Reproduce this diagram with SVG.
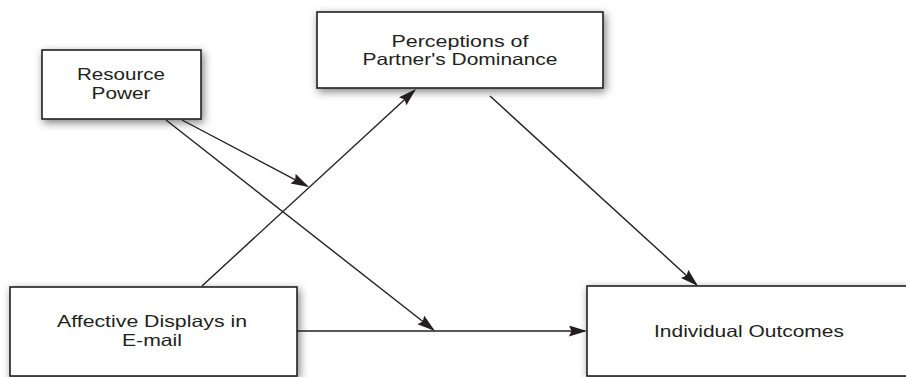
<svg xmlns="http://www.w3.org/2000/svg" width="906" height="377" viewBox="0 0 906 377">
<defs>
<filter id="sh" x="-20%" y="-30%" width="140%" height="170%">
<feDropShadow dx="2" dy="3" stdDeviation="4" flood-color="#000" flood-opacity="0.5"/>
</filter>
<marker id="ah" markerUnits="userSpaceOnUse" markerWidth="20" markerHeight="12" refX="16" refY="5.5" orient="auto">
<path d="M0,0 L18,5.5 L0,11 L2.5,5.5 z" fill="#231f20"/>
</marker>
<style>
.box{fill:#fff;stroke:#231f20;stroke-width:1.6;filter:url(#sh)}
.lbl{font-family:"Liberation Sans",Arial,sans-serif;font-size:16.5px;fill:#231f20;text-anchor:middle}
.con{stroke:#231f20;stroke-width:1.4;fill:none;marker-end:url(#ah)}
</style>
</defs>
<rect width="906" height="377" fill="#fff"/>
<g id="resource-power">
<rect class="box" x="42" y="50" width="159" height="69"/>
<text class="lbl" x="121" y="80" textLength="88" lengthAdjust="spacingAndGlyphs">Resource</text>
<text class="lbl" x="121" y="99" textLength="59" lengthAdjust="spacingAndGlyphs">Power</text>
</g>
<g id="perceptions">
<rect class="box" x="317" y="12" width="286" height="76"/>
<text class="lbl" x="460" y="47" textLength="137" lengthAdjust="spacingAndGlyphs">Perceptions of</text>
<text class="lbl" x="460" y="65" textLength="195" lengthAdjust="spacingAndGlyphs">Partner's Dominance</text>
</g>
<g id="affective">
<rect class="box" x="10" y="287" width="287" height="89"/>
<text class="lbl" x="152" y="327" textLength="190" lengthAdjust="spacingAndGlyphs">Affective Displays in</text>
<text class="lbl" x="152" y="346" textLength="60" lengthAdjust="spacingAndGlyphs">E-mail</text>
</g>
<g id="outcomes">
<rect class="box" x="587" y="286" width="324" height="90"/>
<text class="lbl" x="749" y="337" textLength="190" lengthAdjust="spacingAndGlyphs">Individual Outcomes</text>
</g>
<g id="connectors">
<line class="con" x1="182" y1="120" x2="307.2" y2="186.1"/>
<line class="con" x1="166" y1="120" x2="433.4" y2="329.8"/>
<line class="con" x1="202" y1="286" x2="414.5" y2="90.4"/>
<line class="con" x1="490" y1="96" x2="696.5" y2="284.7"/>
<line class="con" x1="297" y1="331" x2="585" y2="331"/>
</g>
</svg>
